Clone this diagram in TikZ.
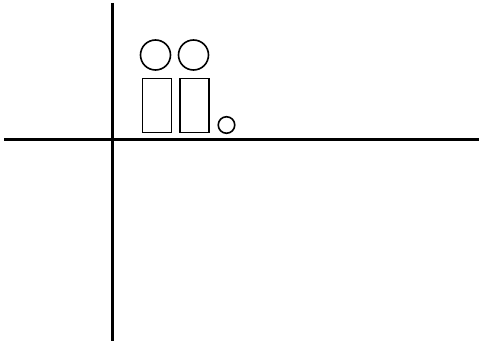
\documentclass[tikz,border=0pt]{standalone}
\begin{document}
\begin{tikzpicture}[x=1pt,y=-1pt,
  axis/.style={line width=3pt},
  shp/.style={draw,line width=1.6pt,inner sep=0pt,outer sep=0pt}]
\useasboundingbox (0,0) rectangle (479,347);
\coordinate (hl) at (4,140);
\coordinate (hr) at (479,140);
\coordinate (vt) at (112,3);
\coordinate (vb) at (112,341);
\draw[axis] (hl) -- (hr);
\draw[axis] (vt) -- (vb);
\node[shp,circle,minimum size=30pt] (c1) at (155.5,55) {};
\node[shp,circle,minimum size=30pt] (c2) at (193.5,55) {};
\node[shp,rectangle,minimum width=29pt,minimum height=54pt] (r1) at (157,105.5) {};
\node[shp,rectangle,minimum width=29pt,minimum height=54pt] (r2) at (194.5,105.5) {};
\node[shp,circle,minimum size=16.5pt] (c3) at (226.5,125) {};
\end{tikzpicture}
\end{document}
